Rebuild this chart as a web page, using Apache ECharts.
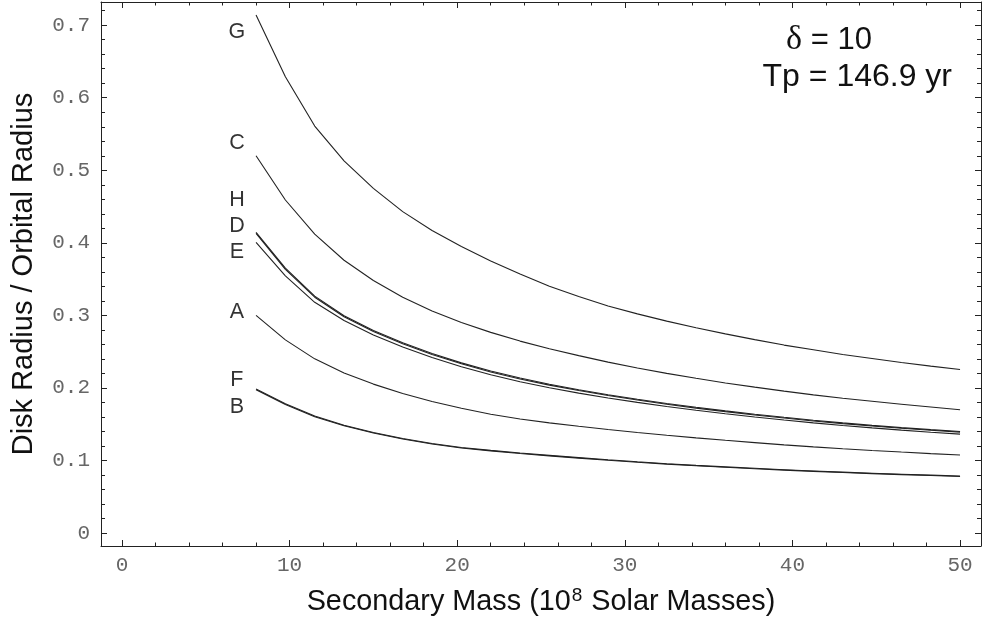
<!DOCTYPE html>
<html><head><meta charset="utf-8">
<script src="https://cdn.jsdelivr.net/npm/echarts@6/dist/echarts.min.js"></script>
<style>html,body{margin:0;padding:0;background:#fff}#c{width:982px;height:628px}</style>
</head><body><div id="c"></div>
<script>
// ---- data ----
const mass = [8, 9.75, 11.5, 13.25, 15, 16.75, 18.5, 20.25, 22, 23.75, 25.5, 27.25, 29, 30.75, 32.5, 34.25, 36, 37.75, 39.5, 41.25, 43, 44.75, 46.5, 48.25, 50];
const curveG = [0.714, 0.629, 0.561, 0.513, 0.475, 0.443, 0.417, 0.395, 0.375, 0.357, 0.340, 0.326, 0.313, 0.302, 0.292, 0.283, 0.2745, 0.2665, 0.259, 0.2525, 0.246, 0.2405, 0.235, 0.230, 0.2253];
const curveC = [0.520, 0.459, 0.412, 0.376, 0.348, 0.325, 0.306, 0.290, 0.2765, 0.2645, 0.254, 0.2445, 0.2355, 0.2275, 0.2200, 0.2132, 0.2068, 0.2010, 0.1955, 0.1904, 0.1856, 0.1815, 0.1775, 0.1736, 0.1698];
const curveH = [0.4145, 0.3650, 0.3265, 0.2995, 0.2790, 0.2622, 0.2475, 0.2345, 0.2232, 0.2135, 0.2050, 0.1975, 0.1906, 0.1843, 0.1785, 0.1732, 0.1683, 0.1637, 0.1594, 0.1554, 0.1517, 0.1483, 0.1452, 0.1424, 0.1399];
const curveD = [0.4130, 0.3635, 0.3250, 0.2980, 0.2776, 0.2608, 0.2461, 0.2332, 0.2219, 0.2122, 0.2038, 0.1963, 0.1894, 0.1832, 0.1774, 0.1721, 0.1672, 0.1627, 0.1584, 0.1544, 0.1507, 0.1474, 0.1443, 0.1415, 0.1390];
const curveE = [0.4007, 0.3545, 0.3180, 0.2930, 0.2730, 0.2565, 0.2420, 0.2292, 0.2180, 0.2085, 0.2002, 0.1928, 0.1861, 0.1800, 0.1743, 0.1692, 0.1644, 0.1599, 0.1557, 0.1518, 0.1482, 0.1449, 0.1418, 0.1389, 0.1363];
const curveA = [0.300, 0.2662, 0.2400, 0.2205, 0.2052, 0.1922, 0.1812, 0.1718, 0.1636, 0.1572, 0.1518, 0.1470, 0.1426, 0.1385, 0.1347, 0.1311, 0.1277, 0.1245, 0.1214, 0.1186, 0.1160, 0.1137, 0.1115, 0.1094, 0.1074];
const curveF = [0.1985, 0.1780, 0.1612, 0.1485, 0.1385, 0.1302, 0.1234, 0.1178, 0.1138, 0.1102, 0.1070, 0.1039, 0.1009, 0.0981, 0.0955, 0.0932, 0.0911, 0.0891, 0.0872, 0.0855, 0.0839, 0.0824, 0.0810, 0.0797, 0.0785];
const curveB = [0.1975, 0.1770, 0.1603, 0.1477, 0.1377, 0.1295, 0.1227, 0.1171, 0.1131, 0.1095, 0.1063, 0.1032, 0.1002, 0.0974, 0.0949, 0.0926, 0.0905, 0.0885, 0.0866, 0.0849, 0.0833, 0.0818, 0.0804, 0.0791, 0.0779];
const curveNames = ['G', 'C', 'H', 'D', 'E', 'A', 'F', 'B'];
const curves = [curveG, curveC, curveH, curveD, curveE, curveA, curveF, curveB];
// curve-letter annotations
const letterX = [6.86, 6.86, 6.86, 6.86, 6.86, 6.86, 6.86, 6.86];
const letterY = [0.690, 0.5376, 0.459, 0.4236, 0.3874, 0.3042, 0.2109, 0.1741];

const xTicks = [0, 10, 20, 30, 40, 50];
const xMinorTicks = [2, 4, 6, 8, 12, 14, 16, 18, 22, 24, 26, 28, 32, 34, 36, 38, 42, 44, 46, 48];
const yTicks = [0, 0.1, 0.2, 0.3, 0.4, 0.5, 0.6, 0.7];
const yTickLabels = ['0', '0.1', '0.2', '0.3', '0.4', '0.5', '0.6', '0.7'];
const yMinorTicks = [0.02, 0.04, 0.06, 0.08, 0.12, 0.14, 0.16, 0.18, 0.22, 0.24, 0.26, 0.28, 0.32, 0.34, 0.36, 0.38, 0.42, 0.44, 0.46, 0.48, 0.52, 0.54, 0.56, 0.58, 0.62, 0.64, 0.66, 0.68, 0.72];

// ---- chart ----
const X_MIN = -1.25, X_MAX = 51.25, Y_MIN = -0.018, Y_MAX = 0.732;
const FRAME = '#222';
const monoLabel = { fontFamily: 'Liberation Mono', fontSize: 21, color: '#666' };

function mkX(position, ticks, len, line, label) {
  return {
    type: 'value', position, min: X_MIN, max: X_MAX,
    axisLine: { show: line, onZero: false, lineStyle: { color: FRAME, width: 1 } },
    axisTick: { show: true, inside: true, length: len, customValues: ticks, lineStyle: { color: FRAME, width: 1 } },
    axisLabel: label ? Object.assign({ show: true, customValues: ticks, margin: 9, formatter: v => String(v) }, monoLabel) : { show: false },
    splitLine: { show: false }, minorTick: { show: false }
  };
}
function mkY(position, ticks, len, line, label) {
  return {
    type: 'value', position, min: Y_MIN, max: Y_MAX,
    axisLine: { show: line, onZero: false, lineStyle: { color: FRAME, width: 1 } },
    axisTick: { show: true, inside: true, length: len, customValues: ticks, lineStyle: { color: FRAME, width: 1 } },
    axisLabel: label ? Object.assign({ show: true, customValues: ticks, margin: 11,
      formatter: v => yTickLabels[yTicks.findIndex(t => Math.abs(t - v) < 1e-9)] }, monoLabel) : { show: false },
    splitLine: { show: false }, minorTick: { show: false }
  };
}

const xMain = mkX('bottom', xTicks, 6, true, true);
xMain.name = 'Secondary Mass (10{sup|8} Solar Masses)';
xMain.nameLocation = 'middle';
xMain.nameGap = 40;
xMain.nameTextStyle = {
  fontFamily: 'Liberation Sans', fontSize: 28.8, color: '#111',
  rich: { sup: { fontFamily: 'Liberation Sans', fontSize: 19, color: '#111', verticalAlign: 'top', padding: [0, 1, 14, 1] } }
};
const yMain = mkY('left', yTicks, 6, true, true);
yMain.name = 'Disk Radius / Orbital Radius';
yMain.nameLocation = 'middle';
yMain.nameGap = 63;
yMain.nameTextStyle = { fontFamily: 'Liberation Sans', fontSize: 29, color: '#111' };

const series = curves.map((vals, i) => ({
  name: curveNames[i], type: 'line', xAxisIndex: 0, yAxisIndex: 0,
  data: mass.map((m, j) => [m, vals[j]]),
  showSymbol: false, symbol: 'none', smooth: false, clip: false,
  lineStyle: { color: '#222', width: 1.1 }, silent: true
}));
series.push({
  type: 'scatter', xAxisIndex: 0, yAxisIndex: 0, symbolSize: 0, silent: true,
  data: curveNames.map((n, i) => [letterX[i], letterY[i], n]),
  label: { show: true, position: 'inside', formatter: p => p.data[2],
    fontFamily: 'Liberation Sans', fontSize: 21.5, color: '#000' }
});

const chart = echarts.init(document.getElementById('c'), null, { renderer: 'canvas' });
chart.setOption({
  animation: false,
  backgroundColor: '#fff',
  grid: { left: 101, right: 1, top: 2, bottom: 82, containLabel: false },
  xAxis: [
    xMain,
    mkX('bottom', xMinorTicks, 3.5, false, false),
    mkX('top', xTicks, 6, true, false),
    mkX('top', xMinorTicks, 3.5, false, false)
  ],
  yAxis: [
    yMain,
    mkY('left', yMinorTicks, 4, false, false),
    mkY('right', yTicks, 6, true, false),
    mkY('right', yMinorTicks, 4, false, false)
  ],
  series,
  graphic: [
    { type: 'text', x: 829, y: 40, silent: true,
      style: { text: '{d|δ} = 10', fill: '#111', font: '31px "Liberation Sans"', textAlign: 'center', textVerticalAlign: 'middle',
        rich: { d: { fontFamily: 'Liberation Serif', fontSize: 34, fill: '#111' } } } },
    { type: 'text', x: 952, y: 77, silent: true,
      style: { text: 'Tp = 146.9 yr', fill: '#111', font: '32px "Liberation Sans"', textAlign: 'right', textVerticalAlign: 'middle' } }
  ]
});
</script></body></html>
